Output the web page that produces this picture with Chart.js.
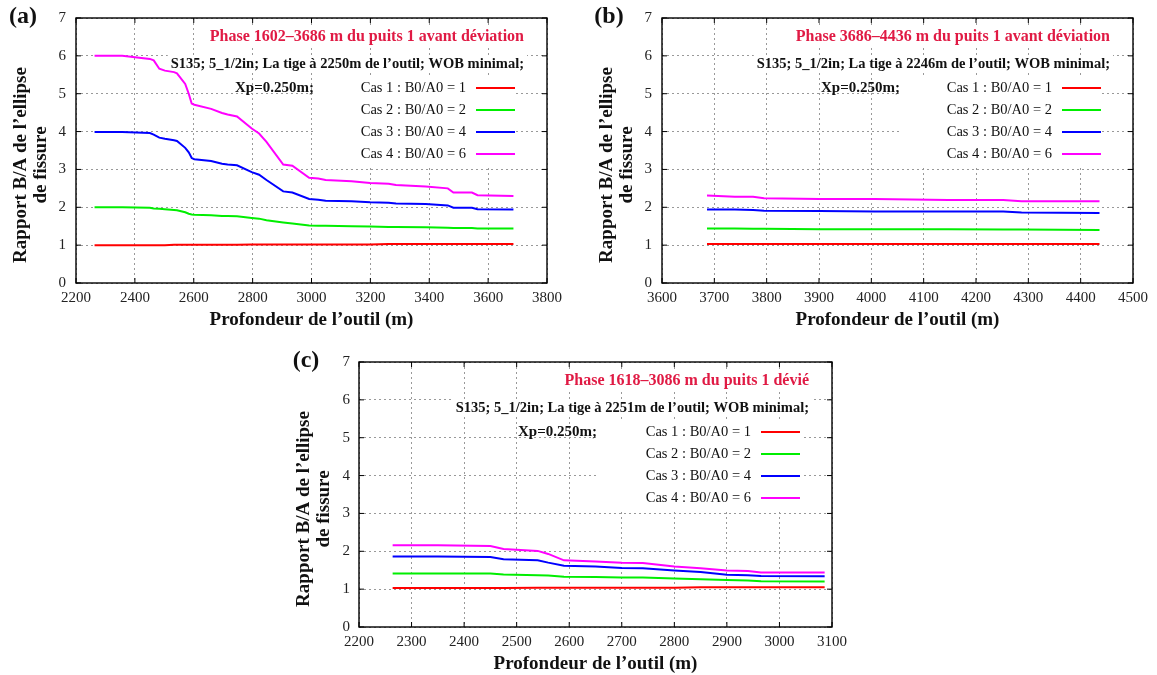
<!DOCTYPE html>
<html>
<head>
<meta charset="utf-8">
<script src="https://cdn.jsdelivr.net/npm/chart.js@4.4.0/dist/chart.umd.min.js"></script>
<style>
body { margin: 0; background: #fff; width: 1157px; height: 675px; position: relative; overflow: hidden; }
canvas { position: absolute; }
</style>
</head>
<body>
<canvas id="chartA" width="570" height="340" style="left:0;top:0"></canvas>
<canvas id="chartB" width="577" height="340" style="left:580px;top:0"></canvas>
<canvas id="chartC" width="580" height="335" style="left:280px;top:340px"></canvas>
<script>
// data
const caseLabels = ["Cas 1 : B0/A0 = 1", "Cas 2 : B0/A0 = 2", "Cas 3 : B0/A0 = 4", "Cas 4 : B0/A0 = 6"];
const caseColors = ["#ff0000", "#00ee00", "#0000ff", "#ff00ff"];
const yTicks = [0, 1, 2, 3, 4, 5, 6, 7];

// (a) 1602-3686 m, before deviation
const depthA = [2263, 2357, 2451, 2464, 2483, 2502, 2533, 2543, 2571, 2583, 2593, 2602, 2659, 2696, 2715, 2747, 2797, 2822, 2847, 2904, 2935, 2992, 3023, 3048, 3136, 3199, 3262, 3287, 3388, 3463, 3482, 3545, 3564, 3686];
const cas1A = [1.00, 1.00, 1.00, 1.00, 1.00, 1.00, 1.01, 1.01, 1.01, 1.01, 1.01, 1.01, 1.01, 1.01, 1.01, 1.01, 1.02, 1.02, 1.02, 1.02, 1.02, 1.02, 1.02, 1.02, 1.02, 1.02, 1.03, 1.03, 1.03, 1.03, 1.03, 1.03, 1.03, 1.03];
const cas2A = [2.00, 2.00, 1.99, 1.97, 1.96, 1.95, 1.93, 1.92, 1.87, 1.83, 1.81, 1.80, 1.79, 1.77, 1.77, 1.76, 1.72, 1.70, 1.66, 1.60, 1.57, 1.52, 1.51, 1.51, 1.50, 1.49, 1.48, 1.48, 1.47, 1.46, 1.45, 1.45, 1.44, 1.44];
const cas3A = [3.99, 3.99, 3.96, 3.92, 3.84, 3.81, 3.77, 3.75, 3.57, 3.45, 3.30, 3.27, 3.22, 3.15, 3.13, 3.11, 2.93, 2.86, 2.72, 2.42, 2.39, 2.22, 2.20, 2.17, 2.16, 2.13, 2.12, 2.10, 2.09, 2.05, 1.99, 1.99, 1.95, 1.94];
const cas4A = [6.00, 6.00, 5.92, 5.88, 5.66, 5.61, 5.57, 5.54, 5.26, 5.00, 4.74, 4.71, 4.60, 4.49, 4.45, 4.40, 4.08, 3.95, 3.73, 3.13, 3.10, 2.78, 2.76, 2.72, 2.69, 2.64, 2.62, 2.59, 2.55, 2.50, 2.39, 2.39, 2.32, 2.30];

// (b) 3686-4436 m, before deviation
const depthB = [3686, 3739, 3774, 3795, 3901, 4006, 4112, 4147, 4252, 4287, 4436];
const cas1B = [1.03, 1.03, 1.03, 1.03, 1.03, 1.03, 1.03, 1.03, 1.03, 1.03, 1.03];
const cas2B = [1.44, 1.44, 1.43, 1.43, 1.42, 1.42, 1.42, 1.42, 1.41, 1.41, 1.40];
const cas3B = [1.94, 1.94, 1.93, 1.91, 1.90, 1.89, 1.89, 1.89, 1.89, 1.86, 1.85];
const cas4B = [2.31, 2.28, 2.28, 2.24, 2.22, 2.22, 2.20, 2.19, 2.19, 2.16, 2.16];

// (c) 1618-3086 m, deviated well
const depthC = [2264, 2350, 2450, 2475, 2540, 2560, 2590, 2650, 2700, 2740, 2800, 2850, 2900, 2940, 2965, 3086];
const cas1C = [1.03, 1.03, 1.03, 1.03, 1.04, 1.04, 1.04, 1.04, 1.04, 1.04, 1.04, 1.05, 1.05, 1.05, 1.05, 1.05];
const cas2C = [1.41, 1.41, 1.41, 1.39, 1.37, 1.36, 1.33, 1.32, 1.31, 1.31, 1.28, 1.26, 1.24, 1.23, 1.21, 1.20];
const cas3C = [1.86, 1.86, 1.85, 1.79, 1.76, 1.70, 1.62, 1.60, 1.56, 1.55, 1.49, 1.45, 1.38, 1.37, 1.35, 1.34];
const cas4C = [2.16, 2.16, 2.14, 2.06, 2.01, 1.93, 1.76, 1.73, 1.70, 1.69, 1.60, 1.55, 1.49, 1.48, 1.44, 1.44];

const SERIF = '"Liberation Serif", "Times New Roman", serif';
const PHASE_FONT = 'bold 16px ' + SERIF;
const NOTE_FONT = 'bold 14.5px ' + SERIF;

function makePanel(id, p) {
  const decor = {
    id: 'decor',
    beforeDatasetsDraw(chart) {
      const { ctx, chartArea: a } = chart;
      ctx.save();
      ctx.fillStyle = '#fff';
      [[p.phase, 19, PHASE_FONT], [p.note, 46, NOTE_FONT]].forEach(([t, dy, f]) => {
        ctx.font = f;
        const w = ctx.measureText(t).width;
        ctx.fillRect(a.right - 23 - w - 3, a.top + dy - 9, w + 6, 18);
      });
      ctx.fillRect(a.right - 233, a.top + 59, 202, 88);
      ctx.restore();
    },
    afterDatasetsDraw(chart) {
      const { ctx, chartArea: a, scales } = chart;
      ctx.save();
      ctx.textBaseline = 'middle';
      ctx.textAlign = 'right';
      ctx.font = PHASE_FONT;
      ctx.fillStyle = '#e01a44';
      ctx.fillText(p.phase, a.right - 23, a.top + 19);
      ctx.font = NOTE_FONT;
      ctx.fillStyle = '#111';
      ctx.fillText(p.note, a.right - 23, a.top + 46);
      ctx.font = 'bold 15px ' + SERIF;
      ctx.textAlign = 'left';
      ctx.fillText('Xp=0.250m;', a.left + 159, a.top + 70);
      // key
      ctx.font = '14.5px ' + SERIF;
      caseLabels.forEach((lab, i) => {
        const y = a.top + 70 + 22 * i;
        ctx.textAlign = 'right';
        ctx.fillStyle = '#111';
        ctx.fillText(lab, a.right - 81, y);
        ctx.strokeStyle = caseColors[i];
        ctx.lineWidth = 2.2;
        ctx.beginPath();
        ctx.moveTo(a.right - 71, y);
        ctx.lineTo(a.right - 32, y);
        ctx.stroke();
      });
      // frame and inner ticks
      ctx.strokeStyle = '#000';
      ctx.lineWidth = 1.4;
      ctx.strokeRect(a.left, a.top, a.right - a.left, a.bottom - a.top);
      ctx.lineWidth = 1;
      ctx.beginPath();
      scales.x.ticks.forEach(t => {
        const x = scales.x.getPixelForValue(t.value);
        ctx.moveTo(x, a.bottom); ctx.lineTo(x, a.bottom - 5);
        ctx.moveTo(x, a.top); ctx.lineTo(x, a.top + 5);
      });
      scales.y.ticks.forEach(t => {
        const y = scales.y.getPixelForValue(t.value);
        ctx.moveTo(a.left, y); ctx.lineTo(a.left + 5, y);
        ctx.moveTo(a.right, y); ctx.lineTo(a.right - 5, y);
      });
      ctx.stroke();
      ctx.restore();
    },
    afterDraw(chart) {
      const { ctx, chartArea: a } = chart;
      ctx.save();
      ctx.fillStyle = '#111';
      ctx.textAlign = 'center';
      ctx.textBaseline = 'middle';
      ctx.font = 'bold 24px ' + SERIF;
      ctx.fillText(p.tag, a.left - 53, a.top - 1);
      ctx.font = 'bold 19px ' + SERIF;
      ctx.fillText("Profondeur de l\u2019outil (m)", (a.left + a.right) / 2, a.bottom + 37);
      ctx.translate(a.left - 55, a.top + 147);
      ctx.rotate(-Math.PI / 2);
      ctx.fillText("Rapport B/A de l\u2019ellipse", 0, 0);
      ctx.fillText("de fissure", 0, 20);
      ctx.restore();
    }
  };

  const series = [p.c1, p.c2, p.c3, p.c4];
  return new Chart(document.getElementById(id), {
    type: 'line',
    data: {
      datasets: series.map((vals, i) => ({
        label: caseLabels[i],
        data: p.depth.map((d, k) => ({ x: d, y: vals[k] })),
        borderColor: caseColors[i],
        borderWidth: 2,
        pointRadius: 0,
        tension: 0,
        fill: false
      }))
    },
    options: {
      responsive: false,
      devicePixelRatio: 1,
      animation: false,
      events: [],
      layout: { padding: p.pad },
      plugins: { legend: { display: false }, tooltip: { enabled: false } },
      scales: {
        x: {
          type: 'linear',
          min: p.xMin, max: p.xMax,
          ticks: {
            stepSize: p.xStep, padding: 6, color: '#222',
            font: { family: SERIF, size: 15 },
            callback: v => String(v)
          },
          grid: { color: '#999', lineWidth: 1, drawTicks: false },
          border: { display: false, dash: [2, 3] },
          afterFit(s) { s.height = 40; s.paddingLeft = 0; s.paddingRight = 0; }
        },
        y: {
          min: 0, max: 7,
          afterBuildTicks(s) { s.ticks = yTicks.map(v => ({ value: v })); },
          ticks: {
            padding: p.yPad, color: '#222',
            font: { family: SERIF, size: 15 },
            callback: v => String(v)
          },
          grid: { color: '#999', lineWidth: 1, drawTicks: false },
          border: { display: false, dash: [2, 3] },
          afterFit(s) { s.width = 40; s.paddingTop = 0; s.paddingBottom = 0; }
        }
      }
    },
    plugins: [decor]
  });
}

makePanel('chartA', {
  tag: '(a)',
  phase: 'Phase 1602\u20133686 m du puits 1 avant d\u00e9viation',
  note: 'S135; 5_1/2in; La tige \u00e0 2250m de l\u2019outil; WOB minimal;',
  depth: depthA, c1: cas1A, c2: cas2A, c3: cas3A, c4: cas4A,
  xMin: 2200, xMax: 3800, xStep: 200, yPad: 10,
  pad: { left: 36, right: 23, top: 18, bottom: 17 }
});
makePanel('chartB', {
  tag: '(b)',
  phase: 'Phase 3686\u20134436 m du puits 1 avant d\u00e9viation',
  note: 'S135; 5_1/2in; La tige \u00e0 2246m de l\u2019outil; WOB minimal;',
  depth: depthB, c1: cas1B, c2: cas2B, c3: cas3B, c4: cas4B,
  xMin: 3600, xMax: 4500, xStep: 100, yPad: 10,
  pad: { left: 42, right: 24, top: 18, bottom: 17 }
});
makePanel('chartC', {
  tag: '(c)',
  phase: 'Phase 1618\u20133086 m du puits 1 d\u00e9vi\u00e9',
  note: 'S135; 5_1/2in; La tige \u00e0 2251m de l\u2019outil; WOB minimal;',
  depth: depthC, c1: cas1C, c2: cas2C, c3: cas3C, c4: cas4C,
  xMin: 2200, xMax: 3100, xStep: 100, yPad: 9,
  pad: { left: 39, right: 28, top: 22, bottom: 8 }
});
</script>
</body>
</html>
